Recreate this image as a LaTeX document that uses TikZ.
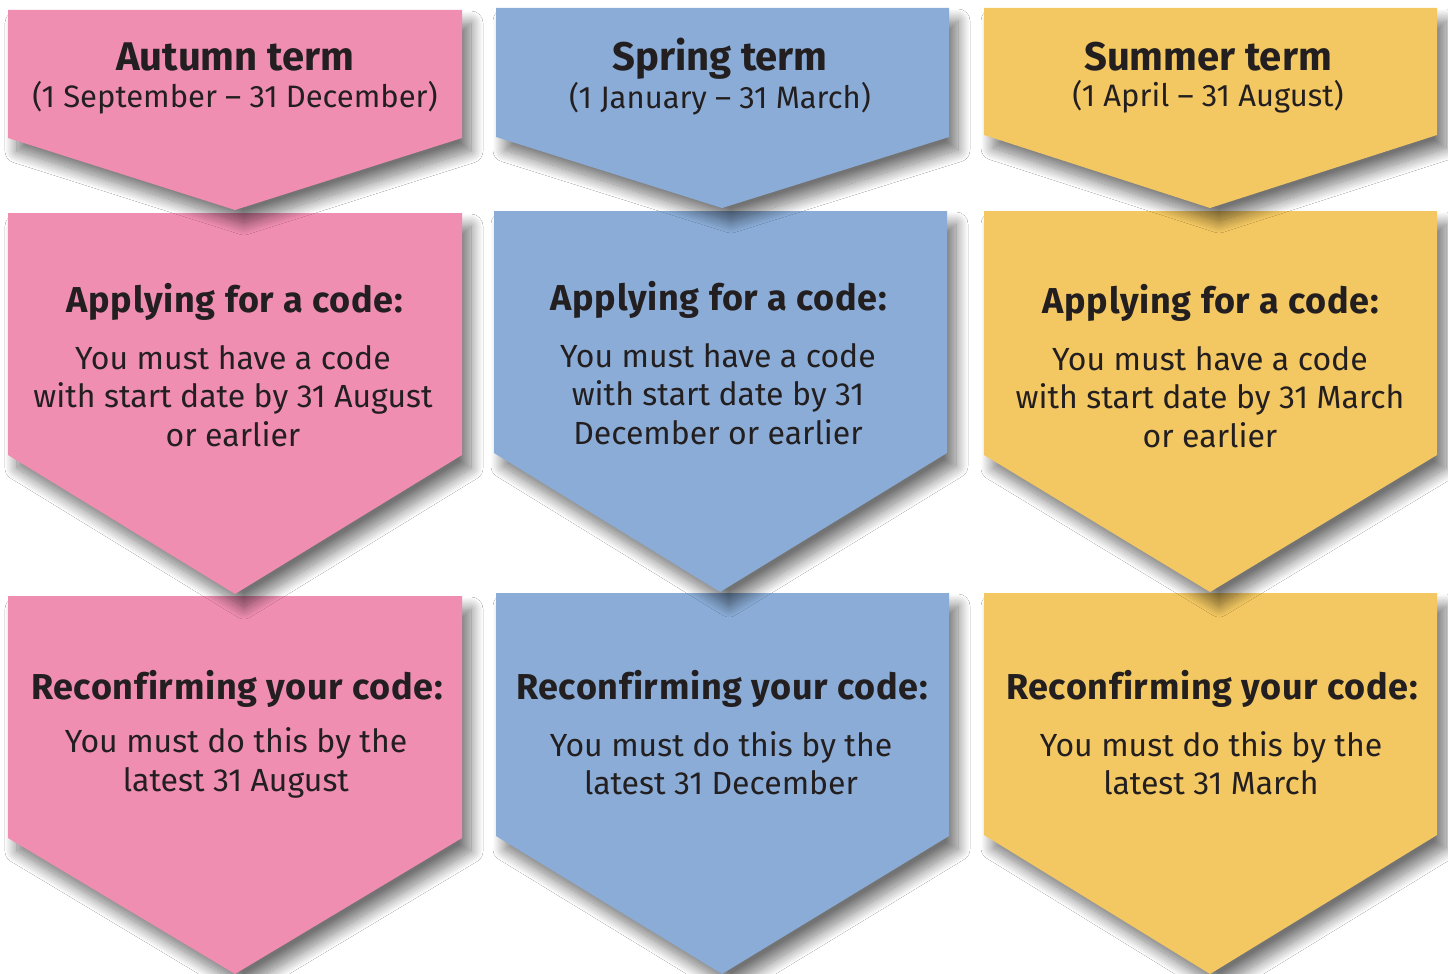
\documentclass[tikz,border=0pt]{standalone}
\usepackage{fontspec}
\setmainfont{Fira Sans}[Ligatures=NoCommon]
\usetikzlibrary{shadows.blur}
\definecolor{cpink}{RGB}{240,142,178}
\definecolor{cblue}{RGB}{138,172,214}
\definecolor{cyell}{RGB}{243,200,98}
\definecolor{ctext}{RGB}{35,31,32}
\tikzset{
 shad/.style={blur shadow={shadow xshift=9pt, shadow yshift=-13pt, shadow blur radius=12pt, shadow blur steps=20, shadow opacity=55}},
 title/.style={font=\fontsize{40}{46}\selectfont\bfseries, text=ctext, align=center, inner sep=0pt},
 sub/.style={font=\fontsize{31}{38}\selectfont, text=ctext, align=center, inner sep=0pt},
 head/.style={font=\fontsize{36}{42}\selectfont\bfseries\addfontfeature{LetterSpace=2}, text=ctext, align=center, inner sep=0pt},
 body/.style={font=\fontsize{32}{38.5}\selectfont, text=ctext, align=center, inner sep=0pt},
}
\newcommand\mychev[7]{%
 \path[fill=#7, shad] (#1,#4)--(#2,#4)--(#2,#5)--(#3,#6)--(#1,#5)--cycle;
}
\begin{document}
\begin{tikzpicture}[x=1pt,y=-1pt]
\fill[white] (0,0) rectangle (1448,974);
\useasboundingbox (0,0) rectangle (1448,974);
% row 3
\mychev{8}{462}{235}{596}{838}{974}{cpink}
\mychev{496}{949}{722}{593}{836}{974}{cblue}
\mychev{984}{1437}{1210}{593}{835}{974}{cyell}
% row 2
\mychev{8}{462}{235}{213}{455}{594}{cpink}
\mychev{494}{947}{720}{211}{453}{592}{cblue}
\mychev{984}{1437}{1210}{211}{455}{592}{cyell}
% row 1
\mychev{8}{462}{235}{10}{138}{210}{cpink}
\mychev{496}{949}{722}{8}{137}{208}{cblue}
\mychev{984}{1437}{1210}{8}{135}{208}{cyell}
% texts column 1
\node[title] (t1) at (235,57) {Autumn term};
\node[sub] (s1) at (235,98) {(1 September – 31 December)};
\node[head] (h1) at (235,302) {Applying for a code:};
\node[body] (b1) at (233,396) {You must have a code\\with start date by 31 August\\or earlier};
\node[head] (r1) at (237,689) {Reconfirming your code:};
\node[body] (c1) at (236,763) {You must do this by the\\latest 31 August};
% texts column 2
\node[title] (t2) at (720,59) {Spring term};
\node[sub] (s2) at (720,99) {(1 January – 31 March)};
\node[head] (h2) at (719,300) {Applying for a code:};
\node[body] (b2) at (718,394) {You must have a code\\with start date by 31\\December or earlier};
\node[head] (r2) at (722,689) {Reconfirming your code:};
\node[body] (c2) at (721,763) {You must do this by the\\latest 31 December};
% texts column 3
\node[title] (t3) at (1208,57) {Summer term};
\node[sub] (s3) at (1208,97) {(1 April – 31 August)};
\node[head] (h3) at (1211,303) {Applying for a code:};
\node[body] (b3) at (1210,397) {You must have a code\\with start date by 31 March\\or earlier};
\node[head] (r3) at (1212,689) {Reconfirming your code:};
\node[body] (c3) at (1211,763) {You must do this by the\\latest 31 March};
\end{tikzpicture}
\end{document}
